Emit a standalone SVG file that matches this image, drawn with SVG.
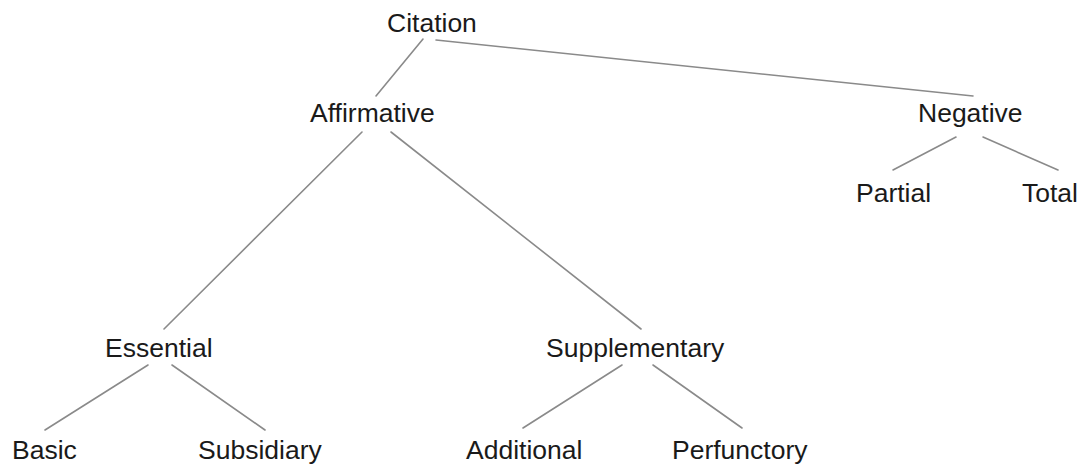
<svg xmlns="http://www.w3.org/2000/svg" width="1087" height="466" viewBox="0 0 1087 466">
  <style>
    .label { font-family: "Liberation Sans", Arial, sans-serif; font-size: 26.5px; fill: #1a1a1a; }
    .edge { stroke: #8a8a8a; stroke-width: 1.6; fill: none; stroke-linecap: round; }
  </style>
  <rect width="1087" height="466" fill="#ffffff"/>
  <g id="connectors">
    <line class="edge" x1="423" y1="39" x2="376" y2="96"/>
    <line class="edge" x1="436" y1="40" x2="973" y2="96"/>
    <line class="edge" x1="956" y1="137" x2="893" y2="170"/>
    <line class="edge" x1="983" y1="137" x2="1058" y2="170"/>
    <line class="edge" x1="362" y1="132" x2="164" y2="329"/>
    <line class="edge" x1="391" y1="132" x2="641" y2="329"/>
    <line class="edge" x1="148" y1="365" x2="45" y2="430"/>
    <line class="edge" x1="172" y1="365" x2="265" y2="430"/>
    <line class="edge" x1="622" y1="365" x2="523" y2="428"/>
    <line class="edge" x1="653" y1="365" x2="742" y2="428"/>
  </g>
  <g id="citation"><text class="label" x="387" y="32">Citation</text></g>
  <g id="affirmative"><text class="label" x="310" y="122">Affirmative</text></g>
  <g id="negative"><text class="label" x="918" y="122">Negative</text></g>
  <g id="partial"><text class="label" x="856" y="202">Partial</text></g>
  <g id="total"><text class="label" x="1022" y="202">Total</text></g>
  <g id="essential"><text class="label" x="105" y="357">Essential</text></g>
  <g id="supplementary"><text class="label" x="546" y="357">Supplementary</text></g>
  <g id="basic"><text class="label" x="12" y="459">Basic</text></g>
  <g id="subsidiary"><text class="label" x="198" y="459">Subsidiary</text></g>
  <g id="additional"><text class="label" x="466" y="459">Additional</text></g>
  <g id="perfunctory"><text class="label" x="672" y="459">Perfunctory</text></g>
</svg>
